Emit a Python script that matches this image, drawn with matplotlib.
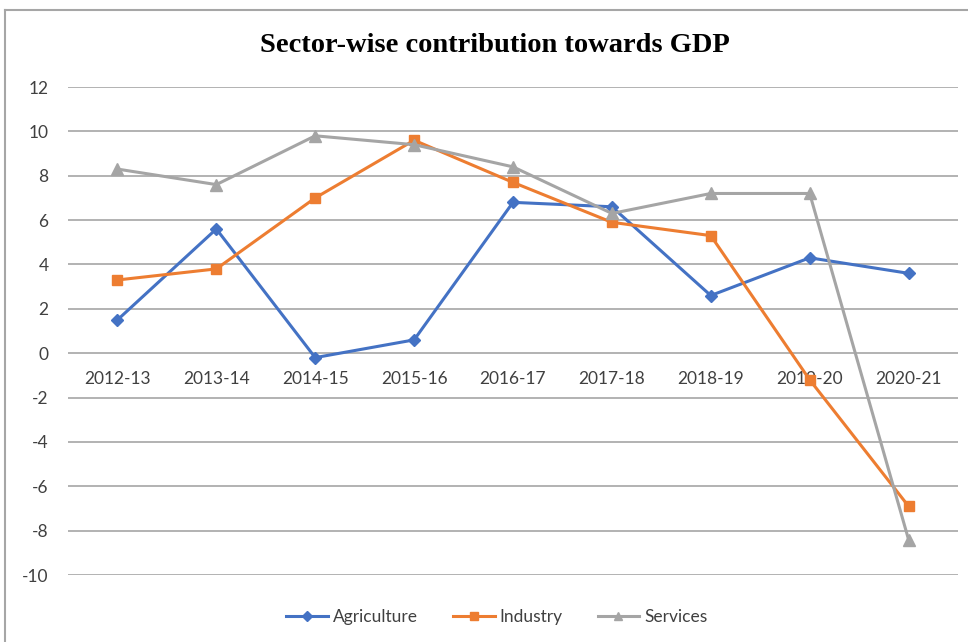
import matplotlib.pyplot as plt
from matplotlib.lines import Line2D

# data
years = ['2012-13', '2013-14', '2014-15', '2015-16', '2016-17',
         '2017-18', '2018-19', '2019-20', '2020-21']
agriculture = [1.5, 5.6, -0.2, 0.6, 6.8, 6.6, 2.6, 4.3, 3.6]
industry = [3.3, 3.8, 7.0, 9.6, 7.7, 5.9, 5.3, -1.2, -6.9]
services = [8.3, 7.6, 9.8, 9.4, 8.4, 6.3, 7.2, 7.2, -8.4]
y_ticks = list(range(-10, 13, 2))

W, H = 968, 642
fig = plt.figure(figsize=(W / 100, H / 100), dpi=100)
ax = fig.add_axes([68 / W, 1 - 575 / H, 890 / W, 488 / H])

tick_font = {'family': ['Lato', 'DejaVu Sans'], 'size': 12.5}

x = range(len(years))
ax.plot(x, agriculture, color='#4472C4', lw=2.2, marker='D', ms=6,
        label='Agriculture', zorder=3)
ax.plot(x, industry, color='#ED7D31', lw=2.2, marker='s', ms=7.5,
        label='Industry', zorder=3)
ax.plot(x, services, color='#A5A5A5', lw=2.2, marker='^', ms=8,
        label='Services', zorder=3)

ax.set_xlim(-0.5, len(years) - 0.5)
ax.set_ylim(-10, 12)
ax.set_yticks(y_ticks)
ax.set_yticklabels([str(v) for v in y_ticks], fontdict=tick_font)
ax.yaxis.grid(True, color='#A6A6A6', lw=1.2)
ax.set_axisbelow(True)
ax.tick_params(axis='y', length=0, pad=14, colors='#404040')

# category labels sit just under the zero line, as in Excel
ax.spines['bottom'].set_position(('data', 0))
ax.set_xticks(list(x))
ax.set_xticklabels(years, fontdict=tick_font)
ax.tick_params(axis='x', length=0, pad=13, colors='#404040')
for s in ['top', 'right', 'left', 'bottom']:
    ax.spines[s].set_visible(False)

fig.text(495 / W, 1 - 45 / H, 'Sector-wise contribution towards GDP',
         ha='center', va='center', fontsize=20.5, fontweight='bold',
         family='Liberation Serif')

leg = fig.legend(loc='center', bbox_to_anchor=(497 / W, 1 - 617 / H),
                 ncol=3, frameon=False, prop=tick_font, handlelength=2.4,
                 columnspacing=2.0, handletextpad=0.3, markerscale=0.8)
for t in leg.get_texts():
    t.set_color('#404040')

# chart border (top and left edges visible in the crop)
fig.add_artist(Line2D([5 / W, 1], [1 - 10 / H, 1 - 10 / H],
                      transform=fig.transFigure, color='#A6A6A6', lw=1.5))
fig.add_artist(Line2D([5 / W, 5 / W], [0, 1 - 10 / H],
                      transform=fig.transFigure, color='#A6A6A6', lw=1.5))

fig.savefig('out.png', dpi=100)
